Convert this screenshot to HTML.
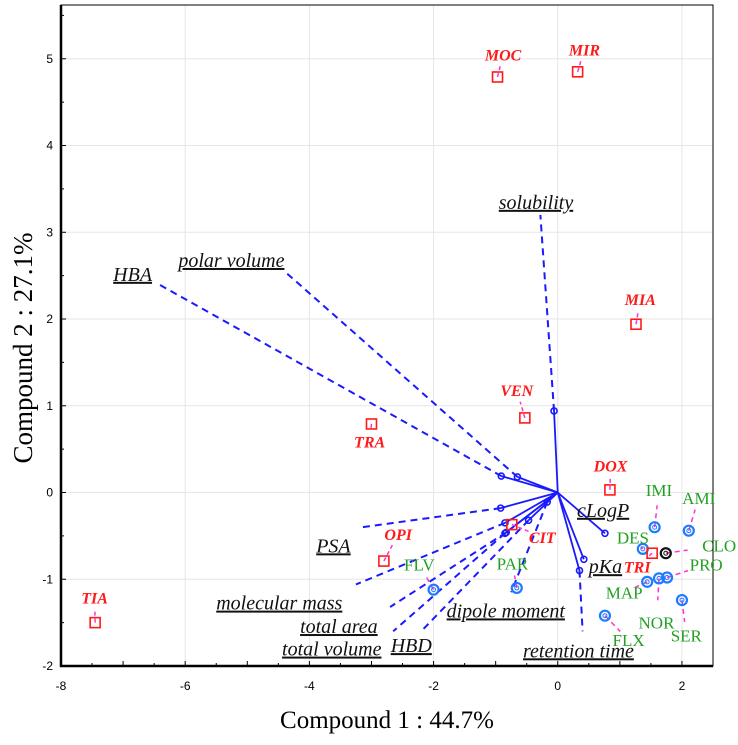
<!DOCTYPE html>
<html><head><meta charset="utf-8"><style>
body{margin:0;background:#fff;width:738px;height:745px;overflow:hidden}
svg{display:block}
</style></head><body>
<svg id="chart" width="738" height="745" xmlns="http://www.w3.org/2000/svg"></svg>
<script>
const xTicks=[-8,-6,-4,-2,0,2];
const yTicks=[-2,-1,0,1,2,3,4,5];
const varNames=["HBA","polar volume","solubility","PSA","molecular mass","total area","total volume","HBD","dipole moment","cLogP","pKa","retention time"];
const varX=[-0.91,-0.65,-0.06,-0.92,-0.85,-0.83,-0.85,-0.47,-0.17,0.76,0.42,0.35];
const varY=[0.19,0.18,0.94,-0.18,-0.35,-0.46,-0.47,-0.32,-0.11,-0.47,-0.77,-0.9];
const extX=[-6.45,-4.4,-0.28,-3.15,-3.25,-2.7,-2.65,-2.2,-0.75,null,null,0.4];
const extY=[2.41,2.55,3.2,-0.4,-1.06,-1.32,-1.6,-1.6,-1.15,null,null,-1.6];
const labX=[-7.16,-6.11,-0.95,-3.89,-5.5,-4.15,-4.44,-2.69,-1.79,0.31,0.5,-0.56];
const labY=[2.44,2.6,3.27,-0.69,-1.35,-1.62,-1.88,-1.84,-1.44,-0.28,-0.93,-1.9];
const objNames=["MOC","MIR","MIA","VEN","TRA","DOX","OPI","CIT","TRI","TIA"];
const objX=[-0.97,0.32,1.26,-0.53,-3.0,0.84,-2.8,-0.74,1.52,-7.45];
const objY=[4.79,4.85,1.94,0.86,0.79,0.03,-0.79,-0.37,-0.7,-1.5];
const objLX=[-0.88,0.43,1.33,-0.66,-3.03,0.85,-2.57,-0.25,1.28,-7.46];
const objLY=[4.98,5.04,2.16,1.11,0.52,0.24,-0.55,-0.58,-0.92,-1.28];
const grpNames=["IMI","AMI","DES","CLO","PRO","MAP","NOR","SER","FLX","FLV","PAR"];
const grpX=[1.56,2.11,1.37,1.74,1.76,1.44,1.63,2.0,0.76,-2.0,-0.66];
const grpY=[-0.4,-0.44,-0.65,-0.7,-0.98,-1.03,-0.99,-1.24,-1.42,-1.12,-1.1];
const grpLX=[1.63,2.27,1.21,2.6,2.39,1.07,1.59,2.07,1.14,-2.23,-0.73];
const grpLY=[-0.04,-0.13,-0.59,-0.68,-0.9,-1.22,-1.57,-1.72,-1.77,-0.9,-0.89];
const X0=61,X1=713,Y0=5,Y1=666,xmin=-8,xmax=2.5,ymin=-2,ymax=5.62;
const sx=v=>X0+(v-xmin)/(xmax-xmin)*(X1-X0);
const sy=v=>Y1-(v-ymin)/(ymax-ymin)*(Y1-Y0);
const svg=document.getElementById('chart');
const NS="http://www.w3.org/2000/svg";
function mk(tag,attrs,parent){const e=document.createElementNS(NS,tag);for(const k in attrs)e.setAttribute(k,attrs[k]);(parent||svg).appendChild(e);return e;}
function txt(x,y,s,attrs){const e=mk('text',Object.assign({x:x,y:y},attrs));e.textContent=s;return e;}
function conn(x1,y1,x2,y2,dash){const dx=x2-x1,dy=y2-y1,d=Math.hypot(dx,dy);const L=Math.max(0,Math.min(d-12,22));
const l=mk('line',{x1:x1,y1:y1,x2:x1+dx/d*L,y2:y1+dy/d*L,stroke:'#ff33cc','stroke-width':1.5,'stroke-dasharray':dash});
}
xTicks.forEach(t=>{const l=mk('line',{x1:sx(t),x2:sx(t),y1:Y0,y2:Y1,stroke:'#e6e6e6','stroke-width':1});
});
yTicks.forEach(t=>{const l=mk('line',{x1:X0,x2:X1,y1:sy(t),y2:sy(t),stroke:'#e6e6e6','stroke-width':1});
});
const fr=mk('rect',{x:X0,y:Y0,width:X1-X0,height:Y1-Y0,fill:'none',stroke:'#000','stroke-width':1});

const ax=mk('path',{d:`M${X0},${Y0}V${Y1}H${X1}`,fill:'none',stroke:'#000','stroke-width':2.5});

for(let t=xmin;t<=xmax+1e-9;t+=0.5){const l=mk('line',{x1:sx(t),x2:sx(t),y1:Y1,y2:Y1-(Number.isInteger(t)?5:3),stroke:'#000'});
}
for(let t=ymin;t<=ymax;t+=0.5){const l=mk('line',{x1:X0,x2:X0+(Number.isInteger(t)?5:3),y1:sy(t),y2:sy(t),stroke:'#000'});
}
xTicks.forEach(t=>{const e=txt(sx(t),690,String(t),{'font-family':'Liberation Sans, sans-serif','font-size':12,'text-anchor':'middle'});
});
yTicks.forEach(t=>{const e=txt(53,sy(t)+4,String(t),{'font-family':'Liberation Sans, sans-serif','font-size':12,'text-anchor':'end'});
});
const xt=txt(387,728,'Compound 1 : 44.7%',{'font-family':'Liberation Serif, serif','font-size':25,'text-anchor':'middle'});

const yt=txt(0,0,'Compound 2 : 27.1%',{'font-family':'Liberation Serif, serif','font-size':27,'text-anchor':'middle',transform:'translate(32,348) rotate(-90)'});

varNames.forEach((n,i)=>{
  if(extX[i]!==null){const d=mk('line',{x1:sx(varX[i]),y1:sy(varY[i]),x2:sx(extX[i]),y2:sy(extY[i]),stroke:'#1a1aff','stroke-width':2,'stroke-dasharray':'7,5'});
  }
  const l=mk('line',{x1:sx(0),y1:sy(0),x2:sx(varX[i]),y2:sy(varY[i]),stroke:'#1a1aff','stroke-width':1.8});
  
  const c=mk('circle',{cx:sx(varX[i]),cy:sy(varY[i]),r:3,fill:'none',stroke:'#1a1aff','stroke-width':1.6});
  
  const t=txt(sx(labX[i]),sy(labY[i]),n,{'font-family':'Liberation Serif, serif','font-size':20,'font-style':'italic','text-decoration':'underline','fill':'#111'});
  
});
grpNames.forEach((n,i)=>{
  const cx=sx(grpX[i]),cy=sy(grpY[i]);
  conn(cx,cy,sx(grpLX[i]),sy(grpLY[i])-6,'5,4');
  const col=n==='CLO'?'#111':'#1e7bff';
  const c1=mk('circle',{cx:cx,cy:cy,r:5,fill:'none',stroke:col,'stroke-width':2.2});
  
  const c2=mk('circle',{cx:cx,cy:cy,r:2,fill:'none',stroke:col,'stroke-width':1});
  
  const t=txt(sx(grpLX[i]),sy(grpLY[i]),n,{'font-family':'Liberation Serif, serif','font-size':17,'fill':'#22a022','text-anchor':'middle'});
  
});
objNames.forEach((n,i)=>{
  const cx=sx(objX[i]),cy=sy(objY[i]);
  conn(cx,cy,sx(objLX[i]),sy(objLY[i])-6,'4,3');
  const r=mk('rect',{x:cx-5,y:cy-5,width:10,height:10,fill:'none',stroke:'#ff1a1a','stroke-width':1.6});
  
  const t=txt(sx(objLX[i]),sy(objLY[i]),n,{'font-family':'Liberation Serif, serif','font-size':16,'font-style':'italic','font-weight':'bold','fill':'#ff1a1a','text-anchor':'middle'});
  
});
</script>
</body></html>
